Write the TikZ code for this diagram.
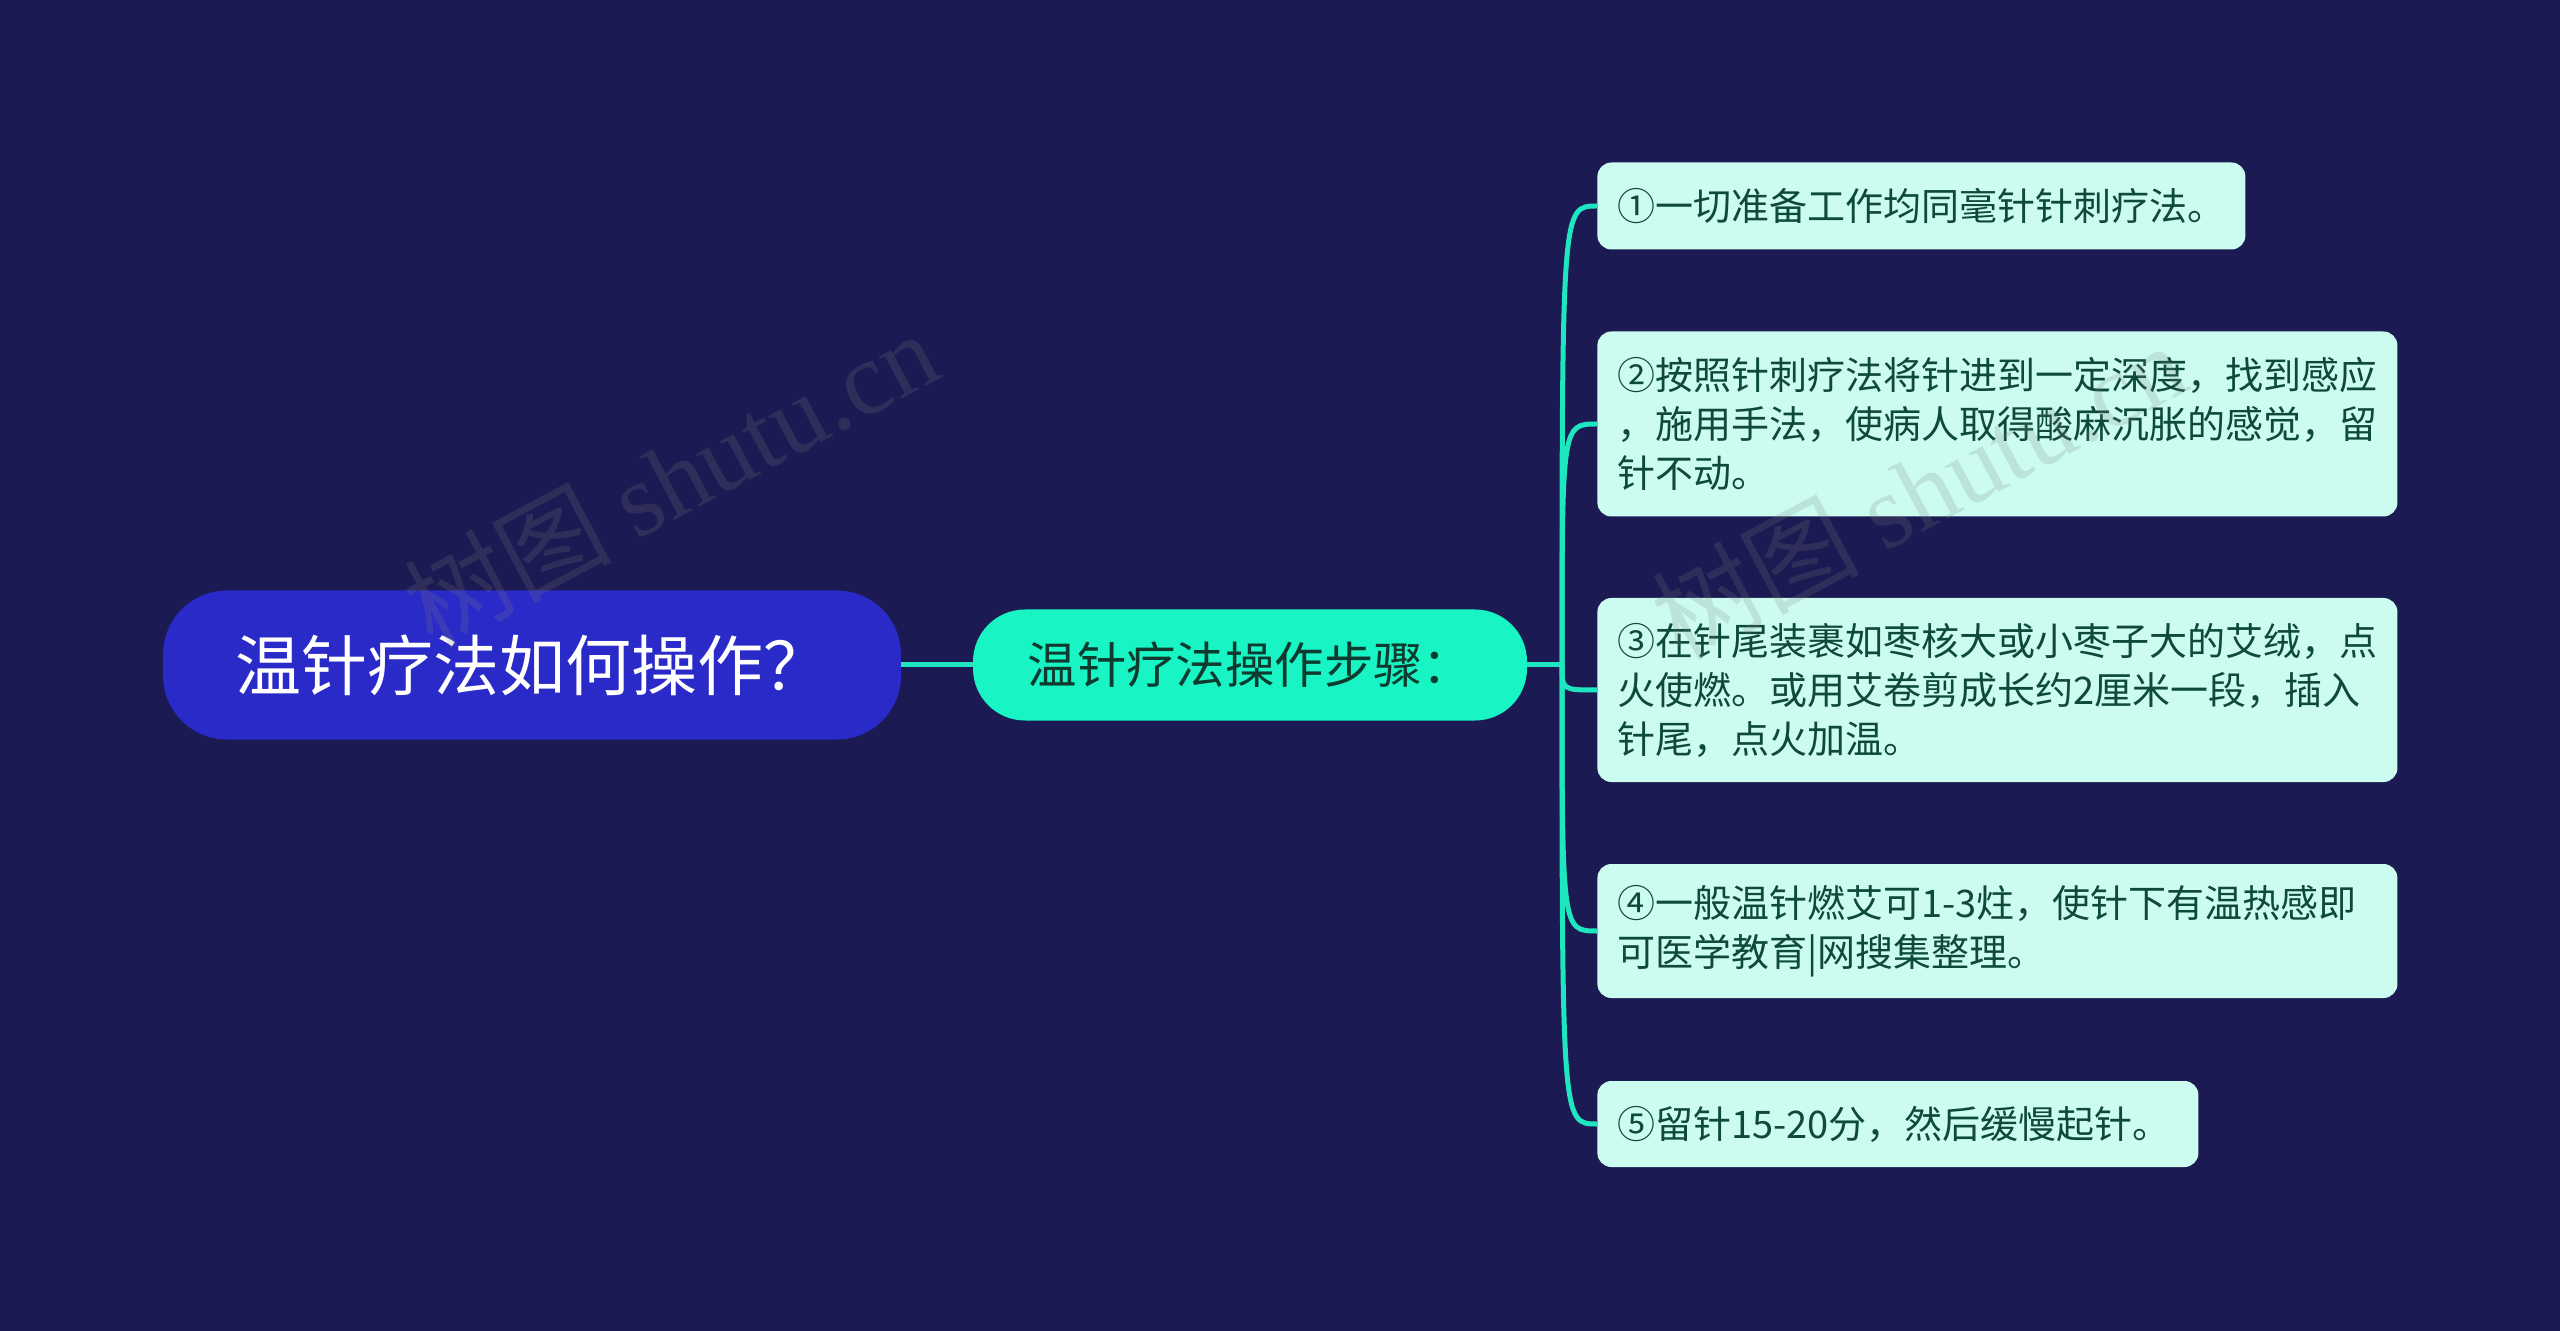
\documentclass[tikz,border=0pt]{standalone}
\usepackage{fontspec}
\setmainfont{Noto Sans CJK SC}
\newfontfamily\wmserif{Liberation Serif}
\definecolor{bg}{HTML}{1B1A52}
\definecolor{rootblue}{HTML}{2A2AC8}
\definecolor{aqua}{HTML}{19F4C5}
\definecolor{connc}{HTML}{1FE6C0}
\definecolor{mint}{HTML}{CCFCF0}
\definecolor{leaftext}{HTML}{0E4A3B}
\definecolor{midtext}{HTML}{0D3B30}
\begin{document}
\begin{tikzpicture}[x=0.5pt,y=-0.5pt,
  rootbox/.style={fill=rootblue, rounded corners=32pt, minimum width=369pt, minimum height=74.5pt, inner sep=0pt, text=white, font=\fontsize{33}{38}\selectfont},
  midbox/.style={fill=aqua, rounded corners=26pt, minimum width=277pt, minimum height=55.5pt, inner sep=0pt, text=midtext, font=\fontsize{24.7}{29}\selectfont},
  leafbox/.style={fill=mint, rounded corners=7pt, anchor=west, align=left, inner xsep=10pt, inner ysep=0pt, text=leaftext, font=\fontsize{19}{24.5}\selectfont},
  conn/.style={draw=connc, line width=2.5pt},
  wmark/.style={text=gray, opacity=0.2, font=\fontsize{52}{56}\selectfont, rotate=28}
]
\useasboundingbox[fill=bg] (0,0) rectangle (2560,1331);

\node[rootbox] (root) at (532,665) {温针疗法如何操作？};
\node[midbox] (mid) at (1250,665) {温针疗法操作步骤：};
\coordinate (J) at (1562,665);

\node[leafbox, text width=304pt, minimum height=43.5pt] (l1) at (1597,206) {①一切准备工作均同毫针针刺疗法。};
\node[leafbox, text width=380pt, minimum height=92.5pt] (l2) at (1597,424) {②按照针刺疗法将针进到一定深度，找到感应\\，施用手法，使病人取得酸麻沉胀的感觉，留\\针不动。};
\node[leafbox, text width=380pt, minimum height=92pt] (l3) at (1597,690) {③在针尾装裹如枣核大或小枣子大的艾绒，点\\火使燃。或用艾卷剪成长约2厘米一段，插入\\针尾，点火加温。};
\node[leafbox, text width=380pt, minimum height=67pt] (l4) at (1597,931) {④一般温针燃艾可1-3炷，使针下有温热感即\\可医学教育|网搜集整理。};
\node[leafbox, text width=280.5pt, minimum height=43pt] (l5) at (1597,1124) {⑤留针15-20分，然后缓慢起针。};

\draw[conn] (root.east) -- (mid.west);
\draw[conn] (mid.east) -- (J);
\foreach \l in {l1,l2,l3,l4,l5}{
  \draw[conn] (J) .. controls (J |- \l.west) .. (\l.west);
}

\node[wmark] (wm1) at (670,478) {树图 {\wmserif shutu.cn}};
\node[wmark] (wm2) at (1918,490) {树图 {\wmserif shutu.cn}};
\end{tikzpicture}
\end{document}
